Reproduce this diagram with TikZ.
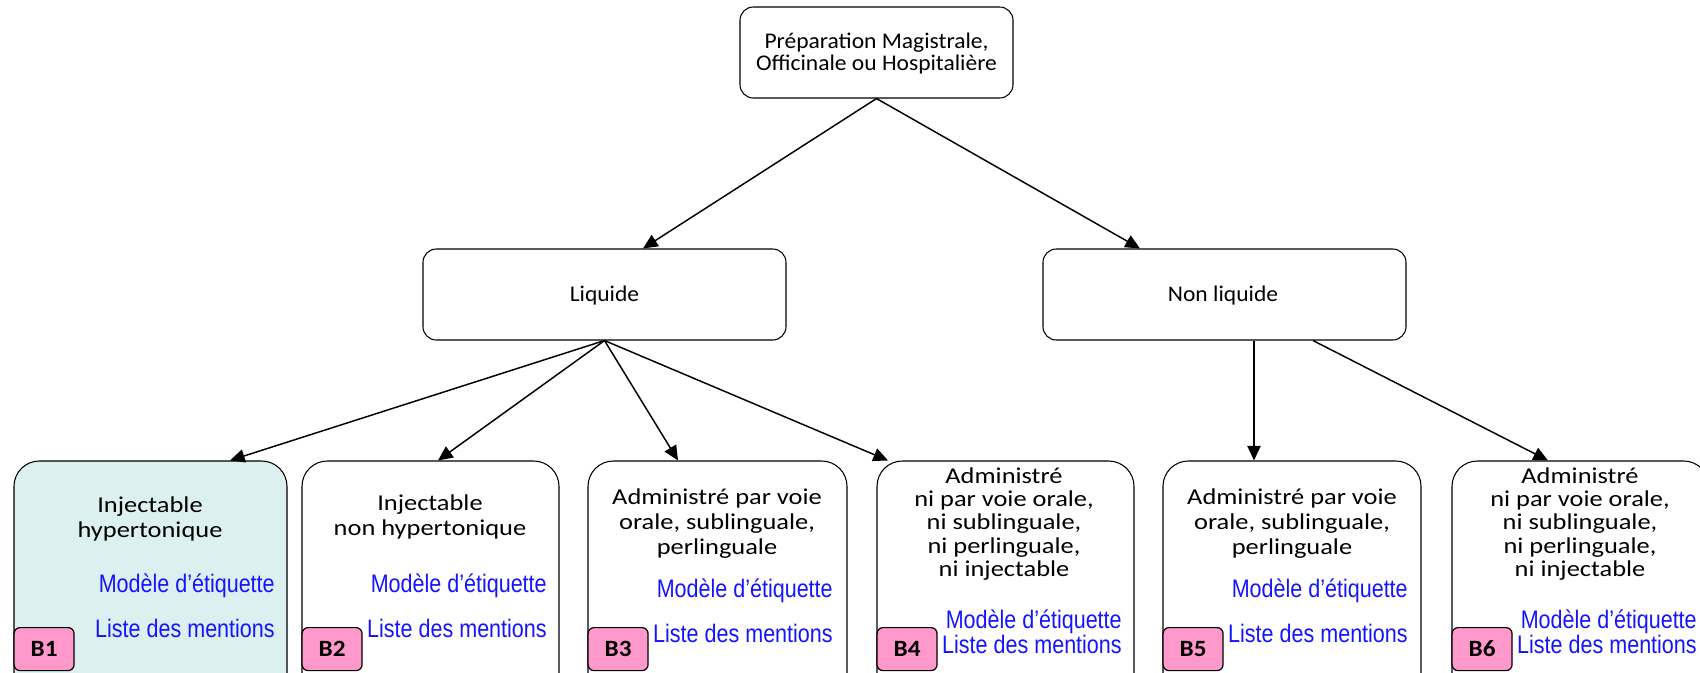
\documentclass[tikz,border=0pt]{standalone}
\usepackage{fontspec}
\setmainfont{Carlito}
\newfontfamily\topfont[FakeStretch=1.05]{Carlito}
\newfontfamily\botfont[FakeStretch=1.165]{Carlito}
\newfontfamily\labfont[FakeStretch=1.08]{Carlito}
\newfontfamily\bluefont[FakeStretch=0.85]{Liberation Sans}
\usetikzlibrary{arrows.meta,calc}
\definecolor{pinklab}{RGB}{255,153,204}
\definecolor{tealfill}{RGB}{221,240,240}
\definecolor{bluetxt}{RGB}{20,20,255}
\newcommand\mlines[1]{\vtop{\lineskiplimit=-\maxdimen\halign{\hfil##\hfil\cr#1\crcr}}}
\tikzset{
  upbox/.style={draw, line width=0.8pt, rounded corners=10pt, inner sep=0pt, minimum height=68.25pt},
  lowbox/.style={draw, line width=0.8pt, rounded corners=19pt, inner sep=0pt, minimum height=194.25pt},
  lab/.style={draw, line width=0.9pt, rounded corners=4.5pt, fill=pinklab, inner sep=0pt,
    minimum width=45pt, minimum height=32.25pt, anchor=north west, font=\fontsize{17.5}{20}\labfont\bfseries},
  toptxt/.style={anchor=base, inner sep=0pt, font=\fontsize{16.8}{16.5}\topfont},
  bottxt/.style={anchor=base, inner sep=0pt, font=\fontsize{17}{18.75}\botfont},
  bluet/.style={anchor=base east, inner sep=0pt, text=bluetxt, font=\fontsize{19}{20}\bluefont},
  arr/.style={-{Triangle[length=11pt,width=10pt]}, line width=1.1pt},
}
\begin{document}
\begin{tikzpicture}[x=0.75pt,y=-0.75pt]
\useasboundingbox (0,0) rectangle (1700,672);
\clip (0,0) rectangle (1700,672);
% upper boxes
\node[upbox, minimum width=204.75pt] (top) at (876.5,52.5) {};
\node[upbox, minimum width=272.25pt] (liq) at (604.5,294.5) {};
\node[upbox, minimum width=272.25pt] (nliq) at (1224.5,294.5) {};
% lower boxes
\node[lowbox, fill=tealfill, minimum width=204.75pt] (b1) at (150.5,590.5) {};
\node[lowbox, minimum width=192.75pt] (b2) at (430.5,590.5) {};
\node[lowbox, minimum width=194.25pt] (b3) at (717.5,590.5) {};
\node[lowbox, minimum width=192.75pt] (b4) at (1005.5,590.5) {};
\node[lowbox, minimum width=193.5pt] (b5) at (1292,590.5) {};
\node[lowbox, minimum width=192.75pt] (b6) at (1580.5,590.5) {};
% texts
\node[toptxt] (ttop) at (876.5,48) {\mlines{Préparation Magistrale,\cr Officinale ou Hospitalière}};
\node[toptxt] (tliq) at (604.5,301) {Liquide};
\node[toptxt] (tnliq) at (1223,301) {Non liquide};
\node[bottxt] (t1) at (150,512) {\mlines{Injectable\cr hypertonique}};
\node[bottxt] (t2) at (430,510) {\mlines{Injectable\cr non hypertonique}};
\node[bottxt] (t3) at (717,504) {\mlines{Administré par voie\cr orale, sublinguale,\cr perlinguale}};
\node[bottxt, font=\fontsize{17}{17.6}\botfont] (t4) at (1004,483) {\mlines{Administré\cr ni par voie orale,\cr ni sublinguale,\cr ni perlinguale,\cr ni injectable}};
\node[bottxt] (t5) at (1292,504) {\mlines{Administré par voie\cr orale, sublinguale,\cr perlinguale}};
\node[bottxt, font=\fontsize{17}{17.6}\botfont] (t6) at (1580,483) {\mlines{Administré\cr ni par voie orale,\cr ni sublinguale,\cr ni perlinguale,\cr ni injectable}};
% blue texts
\node[bluet] (m1) at (275,592) {Modèle d’étiquette};
\node[bluet] (l1) at (275,637) {Liste des mentions};
\node[bluet] (m2) at (547,592) {Modèle d’étiquette};
\node[bluet] (l2) at (547,637) {Liste des mentions};
\node[bluet] (m3) at (833,597) {Modèle d’étiquette};
\node[bluet] (l3) at (833,642) {Liste des mentions};
\node[bluet] (m4) at (1122,628) {Modèle d’étiquette};
\node[bluet] (l4) at (1122,653) {Liste des mentions};
\node[bluet] (m5) at (1408,597) {Modèle d’étiquette};
\node[bluet] (l5) at (1408,642) {Liste des mentions};
\node[bluet] (m6) at (1697,628) {Modèle d’étiquette};
\node[bluet] (l6) at (1697,653) {Liste des mentions};
% labels
\node[lab] (k1) at (b1.north west |- 0,627) {B1};
\node[lab] (k2) at (b2.north west |- 0,627) {B2};
\node[lab] (k3) at (b3.north west |- 0,627) {B3};
\node[lab] (k4) at (b4.north west |- 0,627) {B4};
\node[lab] (k5) at (b5.north west |- 0,627) {B5};
\node[lab] (k6) at (b6.north west |- 0,627) {B6};
% arrows
\draw[arr] (top.south) -- ($(liq.north)+(38.5,0)$);
\draw[arr] (top.south) -- ($(nliq.north)+(-84.5,0)$);
\draw[arr] (liq.south) -- ($(b1.north)+(79.5,0)$);
\draw[arr] (liq.south) -- ($(b2.north)+(7.5,0)$);
\draw[arr] (liq.south) -- ($(b3.north)+(-39.5,0)$);
\draw[arr] (liq.south) -- ($(b4.north)+(-117.5,0)$);
\draw[arr] ($(nliq.south)+(29.5,0)$) -- ($(b5.north)+(-38,0)$);
\draw[arr] ($(nliq.south)+(88.5,0)$) -- ($(b6.north)+(-32.5,0)$);
\end{tikzpicture}
\end{document}
